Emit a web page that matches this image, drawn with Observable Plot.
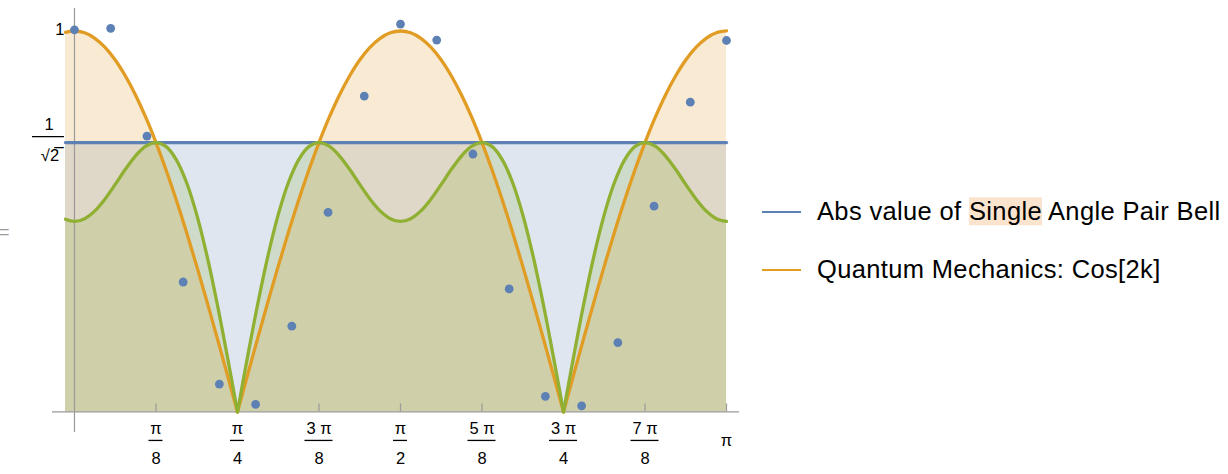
<!DOCTYPE html>
<html><head><meta charset="utf-8">
<script src="https://cdn.jsdelivr.net/npm/d3@7"></script>
<script src="https://cdn.jsdelivr.net/npm/@observablehq/plot@0.6"></script>
<style>
body{margin:0;background:#fff;}
#wrap{position:relative;width:1228px;height:474px;overflow:hidden;font-family:"Liberation Sans",Arial,sans-serif;background:#fff;}
#chart{position:absolute;left:0;top:0;}
.sw{position:absolute;height:2.8px;width:39px;left:762px;}
.lt{position:absolute;left:817px;font-size:25.5px;letter-spacing:0.35px;line-height:1;transform:translateY(-50%);white-space:nowrap;color:#000;}
.hl{background:#FBE4CE;}
#eq{position:absolute;left:-1px;top:222px;font-size:18px;color:#9a9a9a;}
</style></head><body>
<div id="wrap"><div id="chart"></div><div id="legend"></div><div id="eq">=</div></div>
<script>
// ---- data ----
const curveK = [-0.0433, 0, 0.0491, 0.0982, 0.1473, 0.1963, 0.2454, 0.2945, 0.3436, 0.3927, 0.4418, 0.4909, 0.5400, 0.5890, 0.6381, 0.6872, 0.7363, 0.7854, 0.8345, 0.8836, 0.9327, 0.9817, 1.0308, 1.0799, 1.1290, 1.1781, 1.2272, 1.2763, 1.3254, 1.3744, 1.4235, 1.4726, 1.5217, 1.5708, 1.6199, 1.6690, 1.7181, 1.7671, 1.8162, 1.8653, 1.9144, 1.9635, 2.0126, 2.0617, 2.1108, 2.1598, 2.2089, 2.2580, 2.3071, 2.3562, 2.4053, 2.4544, 2.5035, 2.5525, 2.6016, 2.6507, 2.6998, 2.7489, 2.7980, 2.8471, 2.8962, 2.9452, 2.9943, 3.0434, 3.0925, 3.1416];
const orangeVals = [0.9963,
  1, 0.9952, 0.9808, 0.9569, 0.9239, 0.8819, 0.8315, 0.7730, 0.7071, 0.6344, 0.5556, 0.4714, 0.3827, 0.2903, 0.1951, 0.0980, 0,
  0.0980, 0.1951, 0.2903, 0.3827, 0.4714, 0.5556, 0.6344, 0.7071, 0.7730, 0.8315, 0.8819, 0.9239, 0.9569, 0.9808, 0.9952, 1,
  0.9952, 0.9808, 0.9569, 0.9239, 0.8819, 0.8315, 0.7730, 0.7071, 0.6344, 0.5556, 0.4714, 0.3827, 0.2903, 0.1951, 0.0980, 0,
  0.0980, 0.1951, 0.2903, 0.3827, 0.4714, 0.5556, 0.6344, 0.7071, 0.7730, 0.8315, 0.8819, 0.9239, 0.9569, 0.9808, 0.9952, 1];
const greenVals = [0.5056,
  0.5, 0.5072, 0.5277, 0.5591, 0.5972, 0.6369, 0.6724, 0.6976, 0.7071, 0.6963, 0.6619, 0.6023, 0.5180, 0.4110, 0.2852, 0.1461, 0,
  0.1461, 0.2852, 0.4110, 0.5180, 0.6023, 0.6619, 0.6963, 0.7071, 0.6976, 0.6724, 0.6369, 0.5972, 0.5591, 0.5277, 0.5072, 0.5,
  0.5072, 0.5277, 0.5591, 0.5972, 0.6369, 0.6724, 0.6976, 0.7071, 0.6963, 0.6619, 0.6023, 0.5180, 0.4110, 0.2852, 0.1461, 0,
  0.1461, 0.2852, 0.4110, 0.5180, 0.6023, 0.6619, 0.6963, 0.7071, 0.6976, 0.6724, 0.6369, 0.5972, 0.5591, 0.5277, 0.5072, 0.5];
const blueLevel = 0.7071;

const dotK = [0, 0.1745, 0.3491, 0.5236, 0.6981, 0.8727, 1.0472, 1.2217, 1.3963, 1.5708, 1.7453, 1.9199, 2.0944, 2.2689, 2.4435, 2.6180, 2.7925, 2.9671, 3.1416];
const dotVals = [1.003, 1.007, 0.724, 0.341, 0.073, 0.020, 0.225, 0.524, 0.829, 1.018, 0.976, 0.677, 0.323, 0.041, 0.016, 0.182, 0.540, 0.813, 0.975];

const xTickVals = [0.3927, 0.7854, 1.1781, 1.5708, 1.9635, 2.3562, 2.7489, 3.1416];
const xTickNum = ["π", "π", "3 π", "π", "5 π", "3 π", "7 π", "π"];
const xTickDen = ["8", "4", "8", "2", "8", "4", "8", ""];
const yTickVals = [1, 0.7071];
const yTickNum = ["1", "1"];
const yTickDen = ["", "√2\u0305"];

const legendLabels = ["Abs value of Single Angle Pair Bell", "Quantum Mechanics: Cos[2k]"];
const legendHighlight = ["Single", ""];

// ---- styling ----
const BLUE = "#5E81B5", ORANGE = "#E19C24", GREEN = "#8FB032", AXIS = "#9a9a9a";
const legendColors = [BLUE, ORANGE];
const W = 760, H = 474, mL = 52, mR = 21, mT = 8, mB = 42;
const xDomain = [-0.1059, 3.2042], yDomain = [-0.054, 1.059];
const pxX = (xDomain[1] - xDomain[0]) / (W - mL - mR);
const pxY = (yDomain[1] - yDomain[0]) / (H - mT - mB);

// split a curve into pieces at its zeros (the sharp corners), so each smooth piece can be splined
function pieces(vals) {
  const out = []; let seg = 0;
  vals.forEach((v, i) => {
    out.push({k: curveK[i], v, seg});
    if (v === 0 && i > 0 && i < vals.length - 1) { seg++; out.push({k: curveK[i], v, seg}); }
  });
  return out;
}
const orangeData = pieces(orangeVals);
const greenData = pieces(greenVals);
const blueData = curveK.map(k => ({k, v: blueLevel}));
const dots = dotK.map((k, i) => ({k, v: dotVals[i]}));
const xt = xTickVals.map((v, i) => ({v, num: xTickNum[i], den: xTickDen[i]}));
const frac = xt.filter(d => d.den);
const single = xt.filter(d => !d.den);
const yt = yTickVals.map((v, i) => ({v, num: yTickNum[i], den: yTickDen[i]}));
const yFrac = yt.filter(d => d.den);
const ySingle = yt.filter(d => !d.den);

const lab = {fontSize: 16.5, fill: "#000", fontFamily: "Liberation Sans, Arial, sans-serif"};
const C = "catmull-rom";

const chart = Plot.plot({
  width: W, height: H, marginLeft: mL, marginRight: mR, marginTop: mT, marginBottom: mB,
  x: {domain: xDomain, axis: null},
  y: {domain: yDomain, axis: null},
  style: {background: "transparent", overflow: "visible"},
  marks: [
    Plot.areaY(blueData, {x: "k", y: "v", fill: BLUE, fillOpacity: 0.2}),
    Plot.areaY(orangeData, {x: "k", y: "v", z: "seg", curve: C, fill: ORANGE, fillOpacity: 0.2}),
    Plot.areaY(greenData, {x: "k", y: "v", z: "seg", curve: C, fill: GREEN, fillOpacity: 0.2}),
    Plot.ruleY([0], {stroke: AXIS, strokeWidth: 1.2}),
    Plot.ruleX([0], {stroke: AXIS, strokeWidth: 1.2}),
    Plot.ruleX(xTickVals, {x: d => d, y1: 0, y2: 8 * pxY, stroke: AXIS, strokeWidth: 1.2}),
    Plot.ruleY(yTickVals, {y: d => d, x1: 0, x2: 8 * pxX, stroke: AXIS, strokeWidth: 1.2}),
    Plot.lineY(blueData, {x: "k", y: "v", stroke: BLUE, strokeWidth: 3.3}),
    Plot.lineY(orangeData, {x: "k", y: "v", z: "seg", curve: C, stroke: ORANGE, strokeWidth: 3.3}),
    Plot.lineY(greenData, {x: "k", y: "v", z: "seg", curve: C, stroke: GREEN, strokeWidth: 3.3}),
    Plot.dot(dots, {x: "k", y: "v", r: 4.4, fill: BLUE}),
    // x tick labels (fractions of π)
    Plot.text(frac, {x: "v", y: 0, text: "num", dy: 17, ...lab}),
    Plot.ruleY(frac, {y: 0, x1: d => d.v - (d.num.length > 1 ? 14 : 7) * pxX, x2: d => d.v + (d.num.length > 1 ? 14 : 7) * pxX, dy: 28.5, stroke: "#000", strokeWidth: 1.3}),
    Plot.text(frac, {x: "v", y: 0, text: "den", dy: 46.5, ...lab}),
    Plot.text(single, {x: "v", y: 0, text: "num", dy: 29, ...lab}),
    // y tick labels
    Plot.text(ySingle, {x: 0, y: "v", text: "num", dx: -10, dy: -1.5, textAnchor: "end", ...lab}),
    Plot.text(yFrac, {x: 0, y: "v", text: "num", dx: -25.5, dy: -17.5, ...lab}),
    Plot.ruleY(yFrac, {y: "v", x1: -42 * pxX, x2: -10 * pxX, dy: -6, stroke: "#000", strokeWidth: 1.3}),
    Plot.text(yFrac, {x: 0, y: "v", text: "den", dx: -24.5, dy: 13.5, ...lab})
  ]
});
document.getElementById("chart").appendChild(chart);

// ---- legend ----
const legendTops = [212, 270];
const lg = document.getElementById("legend");
legendLabels.forEach((t, i) => {
  const sw = document.createElement("div");
  sw.className = "sw";
  sw.style.top = (legendTops[i] - 1.4) + "px";
  sw.style.background = legendColors[i];
  lg.appendChild(sw);
  const tx = document.createElement("div");
  tx.className = "lt";
  tx.style.top = legendTops[i] + "px";
  const h = legendHighlight[i];
  if (h && t.includes(h)) {
    const [a, b] = t.split(h);
    tx.append(a);
    const s = document.createElement("span"); s.className = "hl"; s.textContent = h;
    tx.append(s, b);
  } else tx.textContent = t;
  lg.appendChild(tx);
});
</script>
</body></html>
